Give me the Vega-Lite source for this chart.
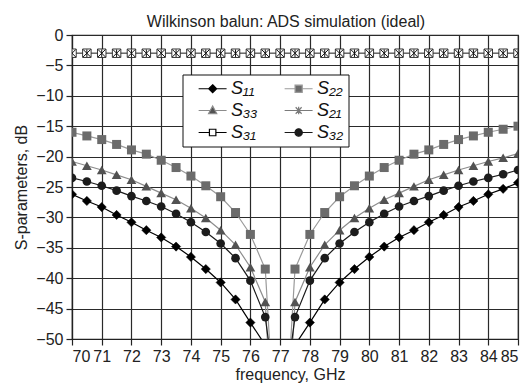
{
  "$schema": "https://vega.github.io/schema/vega-lite/v6.json",
  "width": 446,
  "height": 304,
  "autosize": {"type": "none"},
  "padding": {"left": 72, "top": 35, "right": 13, "bottom": 47},
  "background": "white",
  "title": {"text": "Wilkinson balun: ADS simulation (ideal)", "fontSize": 16, "fontWeight": "normal", "font": "Liberation Sans", "color": "#222", "anchor": "middle", "frame": "group", "baseline": "alphabetic", "offset": 8.5, "dx": -9, "dy": 24},
  "config": {
    "font": "Liberation Sans",
    "view": {"stroke": "#222", "strokeWidth": 1.2},
    "axis": {"grid": true, "gridColor": "#2a2a2a", "gridWidth": 1.2, "gridOpacity": 1, "domainColor": "#222", "domainWidth": 1.2, "tickColor": "#222", "tickWidth": 1.2, "tickSize": 6, "labelFontSize": 16, "labelColor": "#222", "titleFontSize": 16, "titleFontWeight": "normal", "titleColor": "#222", "labelFont": "Liberation Sans", "titleFont": "Liberation Sans"},
    "legend": {"orient": "none", "legendX": 110.5, "legendY": 39.5, "columns": 2, "title": null, "symbolSize": 289, "symbolStrokeWidth": 1.2, "labelFontSize": 18, "labelFontStyle": "italic", "labelColor": "#111", "labelOffset": 25, "padding": 4.5, "rowPadding": 3, "columnPadding": 15, "strokeColor": "#111", "fillColor": "white", "symbolOpacity": 1}
  },
  "data": {"values": [
    {"s": "S₁₁", "f": 70, "dB": -26.2}, {"s": "S₁₁", "f": 70.5, "dB": -27.3}, {"s": "S₁₁", "f": 71, "dB": -28.3}, {"s": "S₁₁", "f": 71.5, "dB": -29.6}, {"s": "S₁₁", "f": 72, "dB": -30.8}, {"s": "S₁₁", "f": 72.5, "dB": -32.1}, {"s": "S₁₁", "f": 73, "dB": -33.3}, {"s": "S₁₁", "f": 73.5, "dB": -34.8}, {"s": "S₁₁", "f": 74, "dB": -36.5}, {"s": "S₁₁", "f": 74.5, "dB": -38.5}, {"s": "S₁₁", "f": 75, "dB": -40.7}, {"s": "S₁₁", "f": 75.5, "dB": -43.5}, {"s": "S₁₁", "f": 76, "dB": -47.3}, {"s": "S₁₁", "f": 76.5, "dB": -51},
    {"s": "S₁₁", "f": 77.5, "dB": -51}, {"s": "S₁₁", "f": 78, "dB": -47.3}, {"s": "S₁₁", "f": 78.5, "dB": -43.5}, {"s": "S₁₁", "f": 79, "dB": -40.7}, {"s": "S₁₁", "f": 79.5, "dB": -38.5}, {"s": "S₁₁", "f": 80, "dB": -36.5}, {"s": "S₁₁", "f": 80.5, "dB": -34.8}, {"s": "S₁₁", "f": 81, "dB": -33.3}, {"s": "S₁₁", "f": 81.5, "dB": -32.1}, {"s": "S₁₁", "f": 82, "dB": -30.8}, {"s": "S₁₁", "f": 82.5, "dB": -29.6}, {"s": "S₁₁", "f": 83, "dB": -28.3}, {"s": "S₁₁", "f": 83.5, "dB": -27.3}, {"s": "S₁₁", "f": 84, "dB": -26.2}, {"s": "S₁₁", "f": 84.5, "dB": -25.3}, {"s": "S₁₁", "f": 85, "dB": -24.3},

    {"s": "S₂₂", "f": 70, "dB": -16.0}, {"s": "S₂₂", "f": 70.5, "dB": -16.6}, {"s": "S₂₂", "f": 71, "dB": -17.2}, {"s": "S₂₂", "f": 71.5, "dB": -18.0}, {"s": "S₂₂", "f": 72, "dB": -18.9}, {"s": "S₂₂", "f": 72.5, "dB": -19.6}, {"s": "S₂₂", "f": 73, "dB": -20.6}, {"s": "S₂₂", "f": 73.5, "dB": -21.8}, {"s": "S₂₂", "f": 74, "dB": -23.2}, {"s": "S₂₂", "f": 74.5, "dB": -24.8}, {"s": "S₂₂", "f": 75, "dB": -26.6}, {"s": "S₂₂", "f": 75.5, "dB": -29.2}, {"s": "S₂₂", "f": 76, "dB": -32.8}, {"s": "S₂₂", "f": 76.5, "dB": -38.5}, {"s": "S₂₂", "f": 76.75, "dB": -59},
    {"s": "S₂₂", "f": 77.25, "dB": -59}, {"s": "S₂₂", "f": 77.5, "dB": -38.5}, {"s": "S₂₂", "f": 78, "dB": -32.8}, {"s": "S₂₂", "f": 78.5, "dB": -29.2}, {"s": "S₂₂", "f": 79, "dB": -26.6}, {"s": "S₂₂", "f": 79.5, "dB": -24.8}, {"s": "S₂₂", "f": 80, "dB": -23.2}, {"s": "S₂₂", "f": 80.5, "dB": -21.8}, {"s": "S₂₂", "f": 81, "dB": -20.6}, {"s": "S₂₂", "f": 81.5, "dB": -19.6}, {"s": "S₂₂", "f": 82, "dB": -18.9}, {"s": "S₂₂", "f": 82.5, "dB": -18.0}, {"s": "S₂₂", "f": 83, "dB": -17.2}, {"s": "S₂₂", "f": 83.5, "dB": -16.6}, {"s": "S₂₂", "f": 84, "dB": -16.0}, {"s": "S₂₂", "f": 84.5, "dB": -15.5}, {"s": "S₂₂", "f": 85, "dB": -15.0},

    {"s": "S₃₃", "f": 70, "dB": -20.8}, {"s": "S₃₃", "f": 70.5, "dB": -21.5}, {"s": "S₃₃", "f": 71, "dB": -22.2}, {"s": "S₃₃", "f": 71.5, "dB": -23.0}, {"s": "S₃₃", "f": 72, "dB": -23.8}, {"s": "S₃₃", "f": 72.5, "dB": -24.9}, {"s": "S₃₃", "f": 73, "dB": -26.0}, {"s": "S₃₃", "f": 73.5, "dB": -27.1}, {"s": "S₃₃", "f": 74, "dB": -28.5}, {"s": "S₃₃", "f": 74.5, "dB": -30.1}, {"s": "S₃₃", "f": 75, "dB": -32.1}, {"s": "S₃₃", "f": 75.5, "dB": -34.5}, {"s": "S₃₃", "f": 76, "dB": -38.2}, {"s": "S₃₃", "f": 76.5, "dB": -43.9}, {"s": "S₃₃", "f": 76.75, "dB": -66},
    {"s": "S₃₃", "f": 77.25, "dB": -66}, {"s": "S₃₃", "f": 77.5, "dB": -43.9}, {"s": "S₃₃", "f": 78, "dB": -38.2}, {"s": "S₃₃", "f": 78.5, "dB": -34.5}, {"s": "S₃₃", "f": 79, "dB": -32.1}, {"s": "S₃₃", "f": 79.5, "dB": -30.1}, {"s": "S₃₃", "f": 80, "dB": -28.5}, {"s": "S₃₃", "f": 80.5, "dB": -27.1}, {"s": "S₃₃", "f": 81, "dB": -26.0}, {"s": "S₃₃", "f": 81.5, "dB": -24.9}, {"s": "S₃₃", "f": 82, "dB": -23.8}, {"s": "S₃₃", "f": 82.5, "dB": -23.0}, {"s": "S₃₃", "f": 83, "dB": -22.2}, {"s": "S₃₃", "f": 83.5, "dB": -21.5}, {"s": "S₃₃", "f": 84, "dB": -20.8}, {"s": "S₃₃", "f": 84.5, "dB": -20.2}, {"s": "S₃₃", "f": 85, "dB": -19.5},

    {"s": "S₃₂", "f": 70, "dB": -23.5}, {"s": "S₃₂", "f": 70.5, "dB": -24.1}, {"s": "S₃₂", "f": 71, "dB": -24.8}, {"s": "S₃₂", "f": 71.5, "dB": -25.6}, {"s": "S₃₂", "f": 72, "dB": -26.5}, {"s": "S₃₂", "f": 72.5, "dB": -27.3}, {"s": "S₃₂", "f": 73, "dB": -28.2}, {"s": "S₃₂", "f": 73.5, "dB": -29.4}, {"s": "S₃₂", "f": 74, "dB": -30.8}, {"s": "S₃₂", "f": 74.5, "dB": -32.4}, {"s": "S₃₂", "f": 75, "dB": -34.3}, {"s": "S₃₂", "f": 75.5, "dB": -36.7}, {"s": "S₃₂", "f": 76, "dB": -40.4}, {"s": "S₃₂", "f": 76.5, "dB": -46.4}, {"s": "S₃₂", "f": 76.75, "dB": -55.5},
    {"s": "S₃₂", "f": 77.25, "dB": -55.5}, {"s": "S₃₂", "f": 77.5, "dB": -46.4}, {"s": "S₃₂", "f": 78, "dB": -40.4}, {"s": "S₃₂", "f": 78.5, "dB": -36.7}, {"s": "S₃₂", "f": 79, "dB": -34.3}, {"s": "S₃₂", "f": 79.5, "dB": -32.4}, {"s": "S₃₂", "f": 80, "dB": -30.8}, {"s": "S₃₂", "f": 80.5, "dB": -29.4}, {"s": "S₃₂", "f": 81, "dB": -28.2}, {"s": "S₃₂", "f": 81.5, "dB": -27.3}, {"s": "S₃₂", "f": 82, "dB": -26.5}, {"s": "S₃₂", "f": 82.5, "dB": -25.6}, {"s": "S₃₂", "f": 83, "dB": -24.8}, {"s": "S₃₂", "f": 83.5, "dB": -24.1}, {"s": "S₃₂", "f": 84, "dB": -23.5}, {"s": "S₃₂", "f": 84.5, "dB": -22.9}, {"s": "S₃₂", "f": 85, "dB": -22.2},

    {"s": "S₃₁", "f": 70, "dB": -3}, {"s": "S₃₁", "f": 70.5, "dB": -3}, {"s": "S₃₁", "f": 71, "dB": -3}, {"s": "S₃₁", "f": 71.5, "dB": -3}, {"s": "S₃₁", "f": 72, "dB": -3}, {"s": "S₃₁", "f": 72.5, "dB": -3}, {"s": "S₃₁", "f": 73, "dB": -3}, {"s": "S₃₁", "f": 73.5, "dB": -3}, {"s": "S₃₁", "f": 74, "dB": -3}, {"s": "S₃₁", "f": 74.5, "dB": -3}, {"s": "S₃₁", "f": 75, "dB": -3}, {"s": "S₃₁", "f": 75.5, "dB": -3}, {"s": "S₃₁", "f": 76, "dB": -3}, {"s": "S₃₁", "f": 76.5, "dB": -3}, {"s": "S₃₁", "f": 77, "dB": -3}, {"s": "S₃₁", "f": 77.5, "dB": -3}, {"s": "S₃₁", "f": 78, "dB": -3}, {"s": "S₃₁", "f": 78.5, "dB": -3}, {"s": "S₃₁", "f": 79, "dB": -3}, {"s": "S₃₁", "f": 79.5, "dB": -3}, {"s": "S₃₁", "f": 80, "dB": -3}, {"s": "S₃₁", "f": 80.5, "dB": -3}, {"s": "S₃₁", "f": 81, "dB": -3}, {"s": "S₃₁", "f": 81.5, "dB": -3}, {"s": "S₃₁", "f": 82, "dB": -3}, {"s": "S₃₁", "f": 82.5, "dB": -3}, {"s": "S₃₁", "f": 83, "dB": -3}, {"s": "S₃₁", "f": 83.5, "dB": -3}, {"s": "S₃₁", "f": 84, "dB": -3}, {"s": "S₃₁", "f": 84.5, "dB": -3}, {"s": "S₃₁", "f": 85, "dB": -3},

    {"s": "S₂₁", "f": 70, "dB": -3}, {"s": "S₂₁", "f": 70.5, "dB": -3}, {"s": "S₂₁", "f": 71, "dB": -3}, {"s": "S₂₁", "f": 71.5, "dB": -3}, {"s": "S₂₁", "f": 72, "dB": -3}, {"s": "S₂₁", "f": 72.5, "dB": -3}, {"s": "S₂₁", "f": 73, "dB": -3}, {"s": "S₂₁", "f": 73.5, "dB": -3}, {"s": "S₂₁", "f": 74, "dB": -3}, {"s": "S₂₁", "f": 74.5, "dB": -3}, {"s": "S₂₁", "f": 75, "dB": -3}, {"s": "S₂₁", "f": 75.5, "dB": -3}, {"s": "S₂₁", "f": 76, "dB": -3}, {"s": "S₂₁", "f": 76.5, "dB": -3}, {"s": "S₂₁", "f": 77, "dB": -3}, {"s": "S₂₁", "f": 77.5, "dB": -3}, {"s": "S₂₁", "f": 78, "dB": -3}, {"s": "S₂₁", "f": 78.5, "dB": -3}, {"s": "S₂₁", "f": 79, "dB": -3}, {"s": "S₂₁", "f": 79.5, "dB": -3}, {"s": "S₂₁", "f": 80, "dB": -3}, {"s": "S₂₁", "f": 80.5, "dB": -3}, {"s": "S₂₁", "f": 81, "dB": -3}, {"s": "S₂₁", "f": 81.5, "dB": -3}, {"s": "S₂₁", "f": 82, "dB": -3}, {"s": "S₂₁", "f": 82.5, "dB": -3}, {"s": "S₂₁", "f": 83, "dB": -3}, {"s": "S₂₁", "f": 83.5, "dB": -3}, {"s": "S₂₁", "f": 84, "dB": -3}, {"s": "S₂₁", "f": 84.5, "dB": -3}, {"s": "S₂₁", "f": 85, "dB": -3}
  ]},
  "encoding": {
    "x": {"field": "f", "type": "quantitative", "scale": {"domain": [70, 85], "nice": false, "zero": false}, "axis": {"values": [70,71,72,73,74,75,76,77,78,79,80,81,82,83,84,85], "title": "frequency, GHz", "labelPadding": 3, "titlePadding": 2, "titleX": 218}},
    "y": {"field": "dB", "type": "quantitative", "scale": {"domain": [-50, 0], "nice": false, "zero": false}, "axis": {"values": [0,-5,-10,-15,-20,-25,-30,-35,-40,-45,-50], "title": "S-parameters, dB", "labelPadding": 3, "titlePadding": 6}}
  },
  "layer": [
    {"mark": {"type": "line", "clip": true, "strokeWidth": 1.2},
     "encoding": {"stroke": {"field": "s", "type": "nominal", "scale": {"domain": ["S₁₁", "S₃₃", "S₃₁", "S₂₂", "S₂₁", "S₃₂"], "range": ["#000000", "#8c8c8c", "#000000", "#9a9a9a", "#7a7a7a", "#1a1a1a"]}}}},
    {"transform": [{"filter": "datum.s == 'S₁₁' && datum.dB >= -50 && abs(datum.f*2 - round(datum.f*2)) < 0.01"}],
     "mark": {"type": "point", "shape": "diamond", "filled": true, "fill": "#000", "stroke": "#000", "strokeWidth": 0.5, "size": 85, "opacity": 1, "clip": true}},
    {"transform": [{"filter": "datum.s == 'S₂₂' && datum.dB >= -50 && abs(datum.f*2 - round(datum.f*2)) < 0.01"}],
     "mark": {"type": "point", "shape": "square", "filled": true, "fill": "#6b6b6b", "strokeWidth": 0, "size": 81, "opacity": 1, "clip": true}},
    {"transform": [{"filter": "datum.s == 'S₃₃' && datum.dB >= -50 && abs(datum.f*2 - round(datum.f*2)) < 0.01"}],
     "mark": {"type": "point", "shape": "triangle-up", "filled": true, "fill": "#525252", "strokeWidth": 0, "size": 95, "opacity": 1, "clip": true}},
    {"transform": [{"filter": "datum.s == 'S₃₂' && datum.dB >= -50 && abs(datum.f*2 - round(datum.f*2)) < 0.01"}],
     "mark": {"type": "point", "shape": "circle", "filled": true, "fill": "#1c1c1c", "strokeWidth": 0, "size": 75, "opacity": 1, "clip": true}},
    {"transform": [{"filter": "datum.s == 'S₃₁'"}],
     "mark": {"type": "point", "shape": "square", "filled": false, "fill": "#ffffff", "stroke": "#222", "strokeWidth": 0.9, "size": 72, "opacity": 1, "clip": true}},
    {"transform": [{"filter": "datum.s == 'S₂₁'"}],
     "mark": {"type": "point", "shape": "M-1,-1L1,1M1,-1L-1,1M0,-1V1", "filled": false, "stroke": "#111", "strokeWidth": 1, "size": 56, "opacity": 1, "clip": true}},
    {"transform": [{"filter": "datum.dB < -52"}],
     "mark": {"type": "point", "filled": true, "strokeWidth": 1.2, "opacity": 1, "clip": true},
     "encoding": {
       "fill": {"field": "s", "type": "nominal", "scale": {"domain": ["S₁₁", "S₃₃", "S₃₁", "S₂₂", "S₂₁", "S₃₂"], "range": ["#000000", "#525252", "#ffffff", "#6b6b6b", "transparent", "#1c1c1c"]}},
       "stroke": {"field": "s", "type": "nominal"},
       "shape": {"field": "s", "type": "nominal", "scale": {"domain": ["S₁₁", "S₃₃", "S₃₁", "S₂₂", "S₂₁", "S₃₂"], "range": [
           "M0.25,0H1.43M2.37,0H3.54M1.9,-0.47L2.37,0L1.9,0.47L1.43,0Z",
           "M0.25,0H1.62M2.18,0H3.54M1.9,-0.52L2.38,0.36L1.42,0.36Z",
           "M0.25,0H1.52M2.28,0H3.54M1.52,-0.38H2.28V0.38H1.52Z",
           "M0.25,0H1.48M2.32,0H3.54M1.48,-0.42H2.32V0.42H1.48Z",
           "M0.25,0H3.54M1.55,-0.38L2.25,0.38M2.25,-0.38L1.55,0.38M1.9,-0.45V0.45",
           "M0.25,0H1.47M2.33,0H3.54M1.47,0A0.43,0.43,0,1,1,2.33,0A0.43,0.43,0,1,1,1.47,0Z"]}}
     }}
  ]
}
